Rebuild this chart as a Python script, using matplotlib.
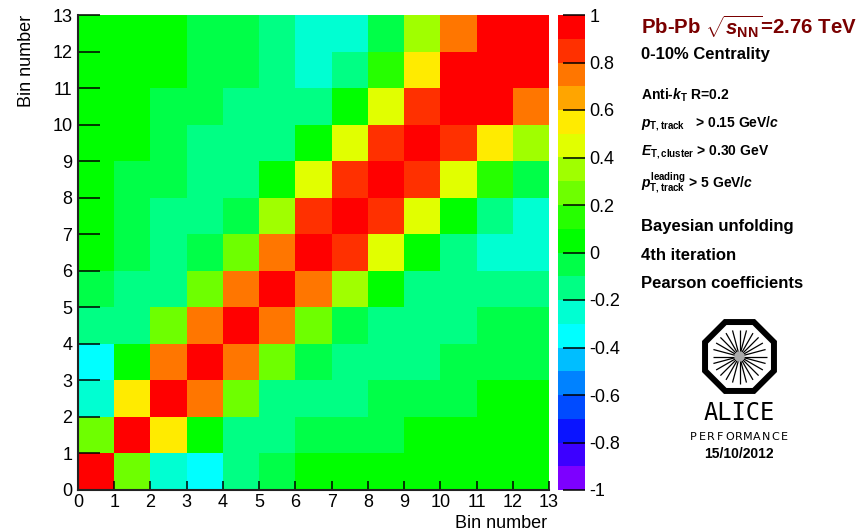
import numpy as np
import matplotlib
matplotlib.use("Agg")
import matplotlib.pyplot as plt
from matplotlib.colors import ListedColormap, BoundaryNorm
from matplotlib.patches import RegularPolygon, Circle
from matplotlib.ticker import NullLocator

plt.rcParams["font.family"] = ["Liberation Sans", "DejaVu Sans"]
plt.rcParams["axes.unicode_minus"] = False
plt.rcParams["mathtext.fontset"] = "custom"
plt.rcParams["mathtext.rm"] = "Liberation Sans:bold"
plt.rcParams["mathtext.it"] = "Liberation Sans:bold:italic"
plt.rcParams["mathtext.bf"] = "Liberation Sans:bold"
plt.rcParams["mathtext.sf"] = "Liberation Sans:bold"

# ── data: Pearson coefficients, rows = y bin 0..12 (bottom to top) ──────
row_0 = [0.95, 0.25, -0.25, -0.35, -0.15, -0.05, 0.05, 0.05, 0.05, 0.05, 0.05, 0.05, 0.05]
row_1 = [0.25, 0.95, 0.55, 0.05, -0.15, -0.15, -0.05, -0.05, -0.05, 0.05, 0.05, 0.05, 0.05]
row_2 = [-0.25, 0.55, 0.95, 0.75, 0.25, -0.15, -0.15, -0.15, -0.05, -0.05, -0.05, 0.05, 0.05]
row_3 = [-0.35, 0.05, 0.75, 0.95, 0.75, 0.25, -0.05, -0.15, -0.15, -0.15, -0.05, -0.05, -0.05]
row_4 = [-0.15, -0.15, 0.25, 0.75, 0.95, 0.75, 0.25, -0.05, -0.15, -0.15, -0.15, -0.05, -0.05]
row_5 = [-0.05, -0.15, -0.15, 0.25, 0.75, 0.95, 0.75, 0.35, 0.05, -0.15, -0.15, -0.15, -0.15]
row_6 = [0.05, -0.05, -0.15, -0.05, 0.25, 0.75, 0.95, 0.85, 0.45, 0.05, -0.15, -0.25, -0.25]
row_7 = [0.05, -0.05, -0.15, -0.15, -0.05, 0.35, 0.85, 0.95, 0.85, 0.45, 0.05, -0.15, -0.25]
row_8 = [0.05, -0.05, -0.05, -0.15, -0.15, 0.05, 0.45, 0.85, 0.95, 0.85, 0.45, 0.15, -0.05]
row_9 = [0.05, 0.05, -0.05, -0.15, -0.15, -0.15, 0.05, 0.45, 0.85, 0.95, 0.85, 0.55, 0.35]
row_10 = [0.05, 0.05, -0.05, -0.05, -0.15, -0.15, -0.15, 0.05, 0.45, 0.85, 0.95, 0.95, 0.75]
row_11 = [0.05, 0.05, 0.05, -0.05, -0.05, -0.15, -0.25, -0.15, 0.15, 0.55, 0.95, 0.95, 0.95]
row_12 = [0.05, 0.05, 0.05, -0.05, -0.05, -0.15, -0.25, -0.25, -0.05, 0.35, 0.75, 0.95, 0.95]

bin_edges = np.arange(14)
cbar_ticks = [-1, -0.8, -0.6, -0.4, -0.2, 0, 0.2, 0.4, 0.6, 0.8, 1]

# ROOT-like 20-level palette, bottom (-1) to top (+1)
palette = [
    (125, 0, 255), (60, 0, 255), (10, 20, 255), (0, 75, 255), (0, 130, 255),
    (0, 190, 255), (0, 255, 255), (0, 255, 210), (0, 255, 132), (0, 255, 72),
    (0, 255, 0), (38, 255, 0), (110, 255, 0), (160, 255, 0), (225, 255, 0),
    (255, 235, 0), (255, 165, 0), (255, 118, 0), (255, 48, 0), (255, 0, 0),
]

matrix = np.array([row_0, row_1, row_2, row_3, row_4, row_5, row_6,
                   row_7, row_8, row_9, row_10, row_11, row_12])

W, H = 857, 530


def fx(x):
    return x / W


def fy(y):
    return 1 - y / H


fig = plt.figure(figsize=(W / 100, H / 100), dpi=100)
ax = fig.add_axes([fx(78), fy(490), (549 - 78) / W, (490 - 15) / H])

cmap = ListedColormap([tuple(c / 255 for c in rgb) for rgb in palette])
norm = BoundaryNorm(np.linspace(-1, 1, 21), 20)
mesh = ax.pcolormesh(bin_edges, bin_edges, matrix, cmap=cmap, norm=norm)

ax.set_xlim(0, 13)
ax.set_ylim(0, 13)
ax.set_xticks(bin_edges)
ax.set_yticks(bin_edges)
for side in ("top", "right"):
    ax.spines[side].set_visible(False)
for side in ("left", "bottom"):
    ax.spines[side].set_linewidth(1.5)
    ax.spines[side].set_color("#222222")
ax.tick_params(axis="x", direction="in", length=6.5, width=1.1, pad=3, labelsize=13)
ax.tick_params(axis="y", direction="in", length=16, width=1.1, pad=4, labelsize=13)

fig.text(fx(547), fy(523), "Bin number", ha="right", va="center", fontsize=13)
fig.text(fx(27), fy(15), "Bin number", ha="center", va="top", rotation=90, fontsize=13)

# colour scale
cax = fig.add_axes([fx(558), fy(490), 27 / W, (490 - 15) / H])
cb = fig.colorbar(mesh, cax=cax, ticks=cbar_ticks)
cb.outline.set_visible(False)
cb.minorticks_off()
cb.ax.yaxis.set_minor_locator(NullLocator())
cb.ax.set_yticklabels(["%g" % t for t in cbar_ticks])
cb.ax.tick_params(which="major", direction="in", length=16, width=1.1, pad=3,
                  labelsize=13, color="black")
cb.ax.tick_params(which="minor", length=0)

# ── labels on the right ─────────────────────────────────────────────────
fig.text(fx(641), fy(27), r"Pb-Pb $\sqrt{s_{\rm NN}}$=2.76 TeV", color="#7a0000",
         fontsize=14.7, fontweight="bold", va="center")
fig.text(fx(641), fy(55), "0-10% Centrality", fontsize=12, fontweight="bold", va="center")
fig.text(fx(641), fy(95), r"Anti-$k_{\rm T}$ R=0.2", fontsize=10, fontweight="bold", va="center")
fig.text(fx(641), fy(124), r"$p_{\rm T,track}$   > 0.15 GeV/$c$", fontsize=10,
         fontweight="bold", va="center")
fig.text(fx(641), fy(152), r"$E_{\rm T,cluster}$ > 0.30 GeV", fontsize=10,
         fontweight="bold", va="center")
fig.text(fx(641), fy(183), r"$p_{\rm T,track}^{\rm leading}$ > 5 GeV/$c$", fontsize=10,
         fontweight="bold", va="center")
fig.text(fx(641), fy(227), "Bayesian unfolding", fontsize=12, fontweight="bold", va="center")
fig.text(fx(641), fy(255), "4th iteration", fontsize=12, fontweight="bold", va="center")
fig.text(fx(641), fy(283), "Pearson coefficients", fontsize=12, fontweight="bold", va="center")

# ── ALICE logo ──────────────────────────────────────────────────────────
lax = fig.add_axes([fx(690), fy(400), 100 / W, 90 / H])
lax.set_xlim(0, 100)
lax.set_ylim(0, 90)
lax.axis("off")
cx, cy = 49.5, 43.5
lax.add_patch(RegularPolygon((cx, cy), 8, radius=37.3, orientation=np.pi / 8,
                             fill=False, lw=4.3, ec="black", joinstyle="miter"))
for ang in np.deg2rad(np.arange(0, 360, 15)):
    lax.plot([cx + 4 * np.cos(ang), cx + 27 * np.cos(ang)],
             [cy + 4 * np.sin(ang), cy + 27 * np.sin(ang)],
             color="black", lw=0.9, solid_capstyle="butt")
lax.add_patch(Circle((cx, cy), 4.5, color="#aaaaaa", zorder=3))

fig.text(fx(739), fy(413), "ALICE", family="DejaVu Sans Mono", fontsize=17,
         ha="center", va="center")
for i, ch in enumerate("PERFORMANCE"):
    fig.text(fx(693 + 9.1 * i), fy(437), ch, family="DejaVu Sans", fontsize=8,
             ha="center", va="center")
fig.text(fx(739), fy(454), "15/10/2012", fontsize=10, fontweight="bold",
         ha="center", va="center")

fig.savefig("out.png", dpi=100)
